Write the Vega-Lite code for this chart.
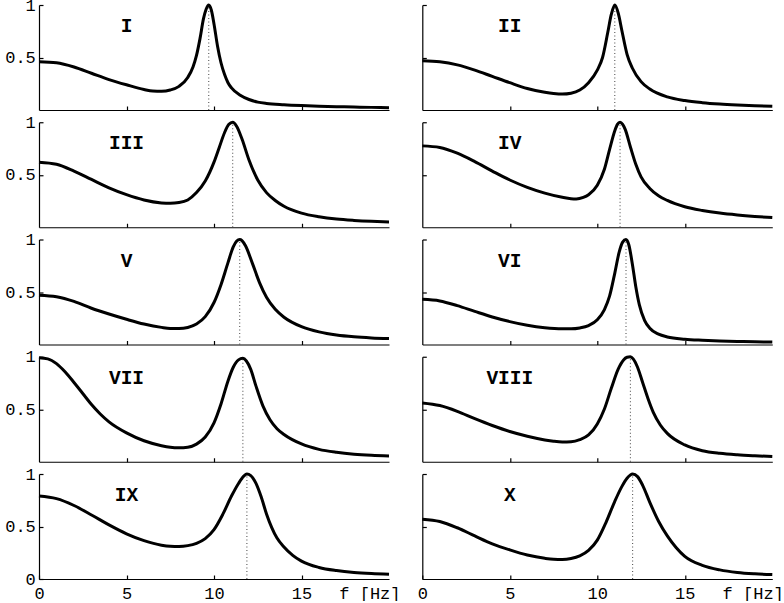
{
"$schema": "https://vega.github.io/schema/vega-lite/v6.json",
"padding": {"left": 4, "top": -4, "right": 0, "bottom": 0},
"background": "white",
"config": {
  "view": {"stroke": null},
  "axis": {"grid": false, "domainColor": "black", "domainWidth": 1.2, "tickColor": "black", "tickWidth": 1.2, "tickSize": -4, "labelFont": "Liberation Mono", "labelFontSize": 17, "labelColor": "black", "labelOverlap": false, "labelFlush": false}
},
"datasets": {
  "curves": [
    {"p":"I","f":0,"v":0.46},{"p":"I","f":1,"v":0.45},{"p":"I","f":2,"v":0.41},{"p":"I","f":3,"v":0.35},{"p":"I","f":4,"v":0.29},{"p":"I","f":5,"v":0.24},{"p":"I","f":6,"v":0.195},{"p":"I","f":6.5,"v":0.18},{"p":"I","f":7,"v":0.178},{"p":"I","f":7.5,"v":0.19},{"p":"I","f":8,"v":0.225},{"p":"I","f":8.5,"v":0.31},{"p":"I","f":8.8,"v":0.41},{"p":"I","f":9,"v":0.52},{"p":"I","f":9.2,"v":0.68},{"p":"I","f":9.4,"v":0.87},{"p":"I","f":9.55,"v":0.96},{"p":"I","f":9.7,"v":1.0},{"p":"I","f":9.85,"v":0.95},{"p":"I","f":10,"v":0.82},{"p":"I","f":10.2,"v":0.61},{"p":"I","f":10.4,"v":0.45},{"p":"I","f":10.6,"v":0.34},{"p":"I","f":10.8,"v":0.26},{"p":"I","f":11,"v":0.21},{"p":"I","f":11.5,"v":0.14},{"p":"I","f":12,"v":0.1},{"p":"I","f":12.5,"v":0.075},{"p":"I","f":13,"v":0.062},{"p":"I","f":14,"v":0.05},{"p":"I","f":15,"v":0.042},{"p":"I","f":16,"v":0.036},{"p":"I","f":17,"v":0.032},{"p":"I","f":18,"v":0.028},{"p":"I","f":19,"v":0.025},{"p":"I","f":20,"v":0.022},
    {"p":"II","f":0,"v":0.47},{"p":"II","f":1,"v":0.46},{"p":"II","f":2,"v":0.43},{"p":"II","f":3,"v":0.38},{"p":"II","f":4,"v":0.32},{"p":"II","f":5,"v":0.26},{"p":"II","f":6,"v":0.205},{"p":"II","f":7,"v":0.17},{"p":"II","f":7.5,"v":0.158},{"p":"II","f":8,"v":0.152},{"p":"II","f":8.5,"v":0.16},{"p":"II","f":9,"v":0.19},{"p":"II","f":9.5,"v":0.26},{"p":"II","f":10,"v":0.38},{"p":"II","f":10.3,"v":0.5},{"p":"II","f":10.6,"v":0.74},{"p":"II","f":10.8,"v":0.91},{"p":"II","f":11,"v":1.0},{"p":"II","f":11.2,"v":0.92},{"p":"II","f":11.4,"v":0.76},{"p":"II","f":11.7,"v":0.53},{"p":"II","f":12,"v":0.4},{"p":"II","f":12.5,"v":0.27},{"p":"II","f":13,"v":0.2},{"p":"II","f":14,"v":0.125},{"p":"II","f":15,"v":0.09},{"p":"II","f":16,"v":0.07},{"p":"II","f":17,"v":0.057},{"p":"II","f":18,"v":0.048},{"p":"II","f":19,"v":0.041},{"p":"II","f":20,"v":0.036},
    {"p":"III","f":0,"v":0.62},{"p":"III","f":1,"v":0.6},{"p":"III","f":2,"v":0.535},{"p":"III","f":3,"v":0.455},{"p":"III","f":4,"v":0.375},{"p":"III","f":5,"v":0.31},{"p":"III","f":6,"v":0.26},{"p":"III","f":7,"v":0.232},{"p":"III","f":7.5,"v":0.228},{"p":"III","f":8,"v":0.235},{"p":"III","f":8.5,"v":0.26},{"p":"III","f":9,"v":0.33},{"p":"III","f":9.5,"v":0.44},{"p":"III","f":10,"v":0.62},{"p":"III","f":10.3,"v":0.76},{"p":"III","f":10.6,"v":0.9},{"p":"III","f":10.85,"v":0.98},{"p":"III","f":11.07,"v":1.0},{"p":"III","f":11.3,"v":0.96},{"p":"III","f":11.6,"v":0.84},{"p":"III","f":12,"v":0.64},{"p":"III","f":12.5,"v":0.45},{"p":"III","f":13,"v":0.33},{"p":"III","f":13.5,"v":0.255},{"p":"III","f":14,"v":0.2},{"p":"III","f":15,"v":0.135},{"p":"III","f":16,"v":0.1},{"p":"III","f":17,"v":0.078},{"p":"III","f":18,"v":0.065},{"p":"III","f":19,"v":0.056},{"p":"III","f":20,"v":0.05},
    {"p":"IV","f":0,"v":0.775},{"p":"IV","f":1,"v":0.76},{"p":"IV","f":2,"v":0.705},{"p":"IV","f":3,"v":0.625},{"p":"IV","f":4,"v":0.535},{"p":"IV","f":5,"v":0.45},{"p":"IV","f":6,"v":0.38},{"p":"IV","f":7,"v":0.325},{"p":"IV","f":8,"v":0.285},{"p":"IV","f":8.5,"v":0.272},{"p":"IV","f":8.8,"v":0.27},{"p":"IV","f":9.2,"v":0.285},{"p":"IV","f":9.5,"v":0.31},{"p":"IV","f":10,"v":0.4},{"p":"IV","f":10.4,"v":0.55},{"p":"IV","f":10.7,"v":0.74},{"p":"IV","f":11,"v":0.92},{"p":"IV","f":11.15,"v":0.98},{"p":"IV","f":11.3,"v":1.0},{"p":"IV","f":11.45,"v":0.98},{"p":"IV","f":11.6,"v":0.93},{"p":"IV","f":11.9,"v":0.76},{"p":"IV","f":12.2,"v":0.6},{"p":"IV","f":12.5,"v":0.48},{"p":"IV","f":13,"v":0.37},{"p":"IV","f":13.5,"v":0.3},{"p":"IV","f":14,"v":0.255},{"p":"IV","f":15,"v":0.195},{"p":"IV","f":16,"v":0.16},{"p":"IV","f":17,"v":0.135},{"p":"IV","f":18,"v":0.117},{"p":"IV","f":19,"v":0.103},{"p":"IV","f":20,"v":0.092},
    {"p":"V","f":0,"v":0.47},{"p":"V","f":1,"v":0.455},{"p":"V","f":2,"v":0.41},{"p":"V","f":3,"v":0.345},{"p":"V","f":4,"v":0.29},{"p":"V","f":5,"v":0.24},{"p":"V","f":6,"v":0.195},{"p":"V","f":7,"v":0.163},{"p":"V","f":7.5,"v":0.153},{"p":"V","f":8,"v":0.152},{"p":"V","f":8.5,"v":0.162},{"p":"V","f":9,"v":0.195},{"p":"V","f":9.5,"v":0.265},{"p":"V","f":10,"v":0.4},{"p":"V","f":10.4,"v":0.57},{"p":"V","f":10.8,"v":0.78},{"p":"V","f":11.1,"v":0.93},{"p":"V","f":11.3,"v":0.985},{"p":"V","f":11.47,"v":1.0},{"p":"V","f":11.6,"v":0.99},{"p":"V","f":11.8,"v":0.94},{"p":"V","f":12.2,"v":0.77},{"p":"V","f":12.6,"v":0.59},{"p":"V","f":13,"v":0.45},{"p":"V","f":13.5,"v":0.335},{"p":"V","f":14,"v":0.26},{"p":"V","f":15,"v":0.17},{"p":"V","f":16,"v":0.12},{"p":"V","f":17,"v":0.09},{"p":"V","f":18,"v":0.073},{"p":"V","f":19,"v":0.063},{"p":"V","f":20,"v":0.057},
    {"p":"VI","f":0,"v":0.43},{"p":"VI","f":1,"v":0.415},{"p":"VI","f":2,"v":0.37},{"p":"VI","f":3,"v":0.315},{"p":"VI","f":4,"v":0.262},{"p":"VI","f":5,"v":0.218},{"p":"VI","f":6,"v":0.183},{"p":"VI","f":7,"v":0.16},{"p":"VI","f":8,"v":0.15},{"p":"VI","f":8.5,"v":0.15},{"p":"VI","f":9,"v":0.158},{"p":"VI","f":9.5,"v":0.18},{"p":"VI","f":10,"v":0.235},{"p":"VI","f":10.4,"v":0.33},{"p":"VI","f":10.7,"v":0.46},{"p":"VI","f":11,"v":0.68},{"p":"VI","f":11.25,"v":0.88},{"p":"VI","f":11.45,"v":0.975},{"p":"VI","f":11.64,"v":1.0},{"p":"VI","f":11.8,"v":0.95},{"p":"VI","f":12,"v":0.77},{"p":"VI","f":12.2,"v":0.55},{"p":"VI","f":12.4,"v":0.38},{"p":"VI","f":12.7,"v":0.23},{"p":"VI","f":13,"v":0.155},{"p":"VI","f":13.5,"v":0.098},{"p":"VI","f":14,"v":0.072},{"p":"VI","f":15,"v":0.05},{"p":"VI","f":16,"v":0.04},{"p":"VI","f":17,"v":0.033},{"p":"VI","f":18,"v":0.029},{"p":"VI","f":19,"v":0.026},{"p":"VI","f":20,"v":0.023},
    {"p":"VII","f":0,"v":0.99},{"p":"VII","f":0.5,"v":0.98},{"p":"VII","f":1,"v":0.935},{"p":"VII","f":1.5,"v":0.855},{"p":"VII","f":2,"v":0.755},{"p":"VII","f":2.5,"v":0.65},{"p":"VII","f":3,"v":0.545},{"p":"VII","f":3.5,"v":0.455},{"p":"VII","f":4,"v":0.38},{"p":"VII","f":5,"v":0.275},{"p":"VII","f":6,"v":0.2},{"p":"VII","f":7,"v":0.153},{"p":"VII","f":7.5,"v":0.138},{"p":"VII","f":8,"v":0.133},{"p":"VII","f":8.5,"v":0.138},{"p":"VII","f":9,"v":0.168},{"p":"VII","f":9.5,"v":0.235},{"p":"VII","f":10,"v":0.37},{"p":"VII","f":10.4,"v":0.55},{"p":"VII","f":10.8,"v":0.77},{"p":"VII","f":11.1,"v":0.9},{"p":"VII","f":11.4,"v":0.97},{"p":"VII","f":11.65,"v":0.985},{"p":"VII","f":11.85,"v":0.96},{"p":"VII","f":12.1,"v":0.88},{"p":"VII","f":12.4,"v":0.72},{"p":"VII","f":12.8,"v":0.53},{"p":"VII","f":13.2,"v":0.4},{"p":"VII","f":13.6,"v":0.315},{"p":"VII","f":14,"v":0.26},{"p":"VII","f":15,"v":0.17},{"p":"VII","f":16,"v":0.118},{"p":"VII","f":17,"v":0.09},{"p":"VII","f":18,"v":0.072},{"p":"VII","f":19,"v":0.061},{"p":"VII","f":20,"v":0.054},
    {"p":"VIII","f":0,"v":0.56},{"p":"VIII","f":1,"v":0.535},{"p":"VIII","f":2,"v":0.48},{"p":"VIII","f":3,"v":0.41},{"p":"VIII","f":4,"v":0.345},{"p":"VIII","f":5,"v":0.288},{"p":"VIII","f":6,"v":0.243},{"p":"VIII","f":7,"v":0.208},{"p":"VIII","f":7.5,"v":0.195},{"p":"VIII","f":8,"v":0.188},{"p":"VIII","f":8.5,"v":0.19},{"p":"VIII","f":9,"v":0.21},{"p":"VIII","f":9.5,"v":0.255},{"p":"VIII","f":10,"v":0.36},{"p":"VIII","f":10.4,"v":0.5},{"p":"VIII","f":10.8,"v":0.7},{"p":"VIII","f":11.2,"v":0.885},{"p":"VIII","f":11.5,"v":0.97},{"p":"VIII","f":11.7,"v":0.995},{"p":"VIII","f":11.89,"v":1.0},{"p":"VIII","f":12.05,"v":0.98},{"p":"VIII","f":12.3,"v":0.9},{"p":"VIII","f":12.6,"v":0.75},{"p":"VIII","f":12.9,"v":0.6},{"p":"VIII","f":13.2,"v":0.47},{"p":"VIII","f":13.6,"v":0.35},{"p":"VIII","f":14,"v":0.27},{"p":"VIII","f":15,"v":0.16},{"p":"VIII","f":16,"v":0.105},{"p":"VIII","f":17,"v":0.08},{"p":"VIII","f":18,"v":0.066},{"p":"VIII","f":19,"v":0.057},{"p":"VIII","f":20,"v":0.05},
    {"p":"IX","f":0,"v":0.79},{"p":"IX","f":1,"v":0.765},{"p":"IX","f":2,"v":0.7},{"p":"IX","f":3,"v":0.61},{"p":"IX","f":4,"v":0.515},{"p":"IX","f":5,"v":0.43},{"p":"IX","f":6,"v":0.365},{"p":"IX","f":7,"v":0.322},{"p":"IX","f":7.5,"v":0.312},{"p":"IX","f":8,"v":0.31},{"p":"IX","f":8.5,"v":0.318},{"p":"IX","f":9,"v":0.34},{"p":"IX","f":9.5,"v":0.385},{"p":"IX","f":10,"v":0.47},{"p":"IX","f":10.5,"v":0.615},{"p":"IX","f":11,"v":0.79},{"p":"IX","f":11.4,"v":0.91},{"p":"IX","f":11.7,"v":0.98},{"p":"IX","f":11.88,"v":1.0},{"p":"IX","f":12.1,"v":0.985},{"p":"IX","f":12.4,"v":0.91},{"p":"IX","f":12.7,"v":0.78},{"p":"IX","f":13,"v":0.62},{"p":"IX","f":13.3,"v":0.49},{"p":"IX","f":13.6,"v":0.39},{"p":"IX","f":14,"v":0.305},{"p":"IX","f":14.5,"v":0.225},{"p":"IX","f":15,"v":0.17},{"p":"IX","f":16,"v":0.11},{"p":"IX","f":17,"v":0.08},{"p":"IX","f":18,"v":0.062},{"p":"IX","f":19,"v":0.052},{"p":"IX","f":20,"v":0.046},
    {"p":"X","f":0,"v":0.57},{"p":"X","f":1,"v":0.548},{"p":"X","f":2,"v":0.488},{"p":"X","f":3,"v":0.41},{"p":"X","f":4,"v":0.335},{"p":"X","f":5,"v":0.277},{"p":"X","f":6,"v":0.228},{"p":"X","f":7,"v":0.197},{"p":"X","f":7.5,"v":0.188},{"p":"X","f":8,"v":0.186},{"p":"X","f":8.5,"v":0.195},{"p":"X","f":9,"v":0.22},{"p":"X","f":9.5,"v":0.272},{"p":"X","f":10,"v":0.37},{"p":"X","f":10.5,"v":0.54},{"p":"X","f":11,"v":0.74},{"p":"X","f":11.4,"v":0.88},{"p":"X","f":11.7,"v":0.96},{"p":"X","f":12.02,"v":1.0},{"p":"X","f":12.3,"v":0.975},{"p":"X","f":12.6,"v":0.89},{"p":"X","f":13,"v":0.73},{"p":"X","f":13.5,"v":0.55},{"p":"X","f":14,"v":0.41},{"p":"X","f":14.5,"v":0.3},{"p":"X","f":15,"v":0.215},{"p":"X","f":16,"v":0.13},{"p":"X","f":17,"v":0.087},{"p":"X","f":18,"v":0.063},{"p":"X","f":19,"v":0.05},{"p":"X","f":20,"v":0.042}
  ],
  "peaks": [
    {"p":"I","f0":9.7},{"p":"II","f0":11.0},{"p":"III","f0":11.07},{"p":"IV","f0":11.3},{"p":"V","f0":11.47},{"p":"VI","f0":11.64},{"p":"VII","f0":11.65},{"p":"VIII","f0":11.89},{"p":"IX","f0":11.88},{"p":"X","f0":12.02}
  ]
},
"columns": 2,
"spacing": {"row": 12.25, "column": 33.3},
"bounds": "flush",
"concat": [
  {"width": 350, "height": 105, "layer": [
    {"data": {"name": "peaks"}, "transform": [{"filter": "datum.p == 'I'"}], "mark": {"type": "rule", "strokeDash": [1, 2.5], "color": "#444", "strokeWidth": 1}, "encoding": {"x": {"field": "f0", "type": "quantitative"}, "y": {"datum": 0}, "y2": {"datum": 1}}},
    {"data": {"name": "curves"}, "transform": [{"filter": "datum.p == 'I'"}], "mark": {"type": "line", "color": "black", "strokeWidth": 3, "interpolate": "monotone"},
     "encoding": {"x": {"field": "f", "type": "quantitative", "scale": {"domain": [0, 20]}, "axis": {"values": [5, 10, 15], "labels": false, "title": null}},
                  "y": {"field": "v", "type": "quantitative", "scale": {"domain": [0, 1]}, "axis": {"values": [0.5, 1], "format": "~g", "labelPadding": 7.7, "title": null}}}},
    {"data": {"name": "peaks"}, "transform": [{"filter": "datum.p == 'I'"}], "mark": {"type": "text", "font": "Liberation Mono", "fontWeight": "bold", "fontSize": 19.5, "align": "center", "baseline": "middle", "color": "black"}, "encoding": {"x": {"datum": 5}, "y": {"datum": 0.8}, "text": {"field": "p"}}}
  ]},
  {"width": 350, "height": 105, "layer": [
    {"data": {"name": "peaks"}, "transform": [{"filter": "datum.p == 'II'"}], "mark": {"type": "rule", "strokeDash": [1, 2.5], "color": "#444", "strokeWidth": 1}, "encoding": {"x": {"field": "f0", "type": "quantitative"}, "y": {"datum": 0}, "y2": {"datum": 1}}},
    {"data": {"name": "curves"}, "transform": [{"filter": "datum.p == 'II'"}], "mark": {"type": "line", "color": "black", "strokeWidth": 3, "interpolate": "monotone"},
     "encoding": {"x": {"field": "f", "type": "quantitative", "scale": {"domain": [0, 20]}, "axis": {"values": [5, 10, 15], "labels": false, "title": null}},
                  "y": {"field": "v", "type": "quantitative", "scale": {"domain": [0, 1]}, "axis": {"values": [0.5, 1], "labels": false, "title": null}}}},
    {"data": {"name": "peaks"}, "transform": [{"filter": "datum.p == 'II'"}], "mark": {"type": "text", "font": "Liberation Mono", "fontWeight": "bold", "fontSize": 19.5, "align": "center", "baseline": "middle", "color": "black"}, "encoding": {"x": {"datum": 5}, "y": {"datum": 0.8}, "text": {"field": "p"}}}
  ]},
  {"width": 350, "height": 105, "layer": [
    {"data": {"name": "peaks"}, "transform": [{"filter": "datum.p == 'III'"}], "mark": {"type": "rule", "strokeDash": [1, 2.5], "color": "#444", "strokeWidth": 1}, "encoding": {"x": {"field": "f0", "type": "quantitative"}, "y": {"datum": 0}, "y2": {"datum": 1}}},
    {"data": {"name": "curves"}, "transform": [{"filter": "datum.p == 'III'"}], "mark": {"type": "line", "color": "black", "strokeWidth": 3, "interpolate": "monotone"},
     "encoding": {"x": {"field": "f", "type": "quantitative", "scale": {"domain": [0, 20]}, "axis": {"values": [5, 10, 15], "labels": false, "title": null}},
                  "y": {"field": "v", "type": "quantitative", "scale": {"domain": [0, 1]}, "axis": {"values": [0.5, 1], "format": "~g", "labelPadding": 7.7, "title": null}}}},
    {"data": {"name": "peaks"}, "transform": [{"filter": "datum.p == 'III'"}], "mark": {"type": "text", "font": "Liberation Mono", "fontWeight": "bold", "fontSize": 19.5, "align": "center", "baseline": "middle", "color": "black"}, "encoding": {"x": {"datum": 5}, "y": {"datum": 0.8}, "text": {"field": "p"}}}
  ]},
  {"width": 350, "height": 105, "layer": [
    {"data": {"name": "peaks"}, "transform": [{"filter": "datum.p == 'IV'"}], "mark": {"type": "rule", "strokeDash": [1, 2.5], "color": "#444", "strokeWidth": 1}, "encoding": {"x": {"field": "f0", "type": "quantitative"}, "y": {"datum": 0}, "y2": {"datum": 1}}},
    {"data": {"name": "curves"}, "transform": [{"filter": "datum.p == 'IV'"}], "mark": {"type": "line", "color": "black", "strokeWidth": 3, "interpolate": "monotone"},
     "encoding": {"x": {"field": "f", "type": "quantitative", "scale": {"domain": [0, 20]}, "axis": {"values": [5, 10, 15], "labels": false, "title": null}},
                  "y": {"field": "v", "type": "quantitative", "scale": {"domain": [0, 1]}, "axis": {"values": [0.5, 1], "labels": false, "title": null}}}},
    {"data": {"name": "peaks"}, "transform": [{"filter": "datum.p == 'IV'"}], "mark": {"type": "text", "font": "Liberation Mono", "fontWeight": "bold", "fontSize": 19.5, "align": "center", "baseline": "middle", "color": "black"}, "encoding": {"x": {"datum": 5}, "y": {"datum": 0.8}, "text": {"field": "p"}}}
  ]},
  {"width": 350, "height": 105, "layer": [
    {"data": {"name": "peaks"}, "transform": [{"filter": "datum.p == 'V'"}], "mark": {"type": "rule", "strokeDash": [1, 2.5], "color": "#444", "strokeWidth": 1}, "encoding": {"x": {"field": "f0", "type": "quantitative"}, "y": {"datum": 0}, "y2": {"datum": 1}}},
    {"data": {"name": "curves"}, "transform": [{"filter": "datum.p == 'V'"}], "mark": {"type": "line", "color": "black", "strokeWidth": 3, "interpolate": "monotone"},
     "encoding": {"x": {"field": "f", "type": "quantitative", "scale": {"domain": [0, 20]}, "axis": {"values": [5, 10, 15], "labels": false, "title": null}},
                  "y": {"field": "v", "type": "quantitative", "scale": {"domain": [0, 1]}, "axis": {"values": [0.5, 1], "format": "~g", "labelPadding": 7.7, "title": null}}}},
    {"data": {"name": "peaks"}, "transform": [{"filter": "datum.p == 'V'"}], "mark": {"type": "text", "font": "Liberation Mono", "fontWeight": "bold", "fontSize": 19.5, "align": "center", "baseline": "middle", "color": "black"}, "encoding": {"x": {"datum": 5}, "y": {"datum": 0.8}, "text": {"field": "p"}}}
  ]},
  {"width": 350, "height": 105, "layer": [
    {"data": {"name": "peaks"}, "transform": [{"filter": "datum.p == 'VI'"}], "mark": {"type": "rule", "strokeDash": [1, 2.5], "color": "#444", "strokeWidth": 1}, "encoding": {"x": {"field": "f0", "type": "quantitative"}, "y": {"datum": 0}, "y2": {"datum": 1}}},
    {"data": {"name": "curves"}, "transform": [{"filter": "datum.p == 'VI'"}], "mark": {"type": "line", "color": "black", "strokeWidth": 3, "interpolate": "monotone"},
     "encoding": {"x": {"field": "f", "type": "quantitative", "scale": {"domain": [0, 20]}, "axis": {"values": [5, 10, 15], "labels": false, "title": null}},
                  "y": {"field": "v", "type": "quantitative", "scale": {"domain": [0, 1]}, "axis": {"values": [0.5, 1], "labels": false, "title": null}}}},
    {"data": {"name": "peaks"}, "transform": [{"filter": "datum.p == 'VI'"}], "mark": {"type": "text", "font": "Liberation Mono", "fontWeight": "bold", "fontSize": 19.5, "align": "center", "baseline": "middle", "color": "black"}, "encoding": {"x": {"datum": 5}, "y": {"datum": 0.8}, "text": {"field": "p"}}}
  ]},
  {"width": 350, "height": 105, "layer": [
    {"data": {"name": "peaks"}, "transform": [{"filter": "datum.p == 'VII'"}], "mark": {"type": "rule", "strokeDash": [1, 2.5], "color": "#444", "strokeWidth": 1}, "encoding": {"x": {"field": "f0", "type": "quantitative"}, "y": {"datum": 0}, "y2": {"datum": 1}}},
    {"data": {"name": "curves"}, "transform": [{"filter": "datum.p == 'VII'"}], "mark": {"type": "line", "color": "black", "strokeWidth": 3, "interpolate": "monotone"},
     "encoding": {"x": {"field": "f", "type": "quantitative", "scale": {"domain": [0, 20]}, "axis": {"values": [5, 10, 15], "labels": false, "title": null}},
                  "y": {"field": "v", "type": "quantitative", "scale": {"domain": [0, 1]}, "axis": {"values": [0.5, 1], "format": "~g", "labelPadding": 7.7, "title": null}}}},
    {"data": {"name": "peaks"}, "transform": [{"filter": "datum.p == 'VII'"}], "mark": {"type": "text", "font": "Liberation Mono", "fontWeight": "bold", "fontSize": 19.5, "align": "center", "baseline": "middle", "color": "black"}, "encoding": {"x": {"datum": 5}, "y": {"datum": 0.8}, "text": {"field": "p"}}}
  ]},
  {"width": 350, "height": 105, "layer": [
    {"data": {"name": "peaks"}, "transform": [{"filter": "datum.p == 'VIII'"}], "mark": {"type": "rule", "strokeDash": [1, 2.5], "color": "#444", "strokeWidth": 1}, "encoding": {"x": {"field": "f0", "type": "quantitative"}, "y": {"datum": 0}, "y2": {"datum": 1}}},
    {"data": {"name": "curves"}, "transform": [{"filter": "datum.p == 'VIII'"}], "mark": {"type": "line", "color": "black", "strokeWidth": 3, "interpolate": "monotone"},
     "encoding": {"x": {"field": "f", "type": "quantitative", "scale": {"domain": [0, 20]}, "axis": {"values": [5, 10, 15], "labels": false, "title": null}},
                  "y": {"field": "v", "type": "quantitative", "scale": {"domain": [0, 1]}, "axis": {"values": [0.5, 1], "labels": false, "title": null}}}},
    {"data": {"name": "peaks"}, "transform": [{"filter": "datum.p == 'VIII'"}], "mark": {"type": "text", "font": "Liberation Mono", "fontWeight": "bold", "fontSize": 19.5, "align": "center", "baseline": "middle", "color": "black"}, "encoding": {"x": {"datum": 5}, "y": {"datum": 0.8}, "text": {"field": "p"}}}
  ]},
  {"width": 350, "height": 105, "layer": [
    {"data": {"name": "peaks"}, "transform": [{"filter": "datum.p == 'IX'"}], "mark": {"type": "rule", "strokeDash": [1, 2.5], "color": "#444", "strokeWidth": 1}, "encoding": {"x": {"field": "f0", "type": "quantitative"}, "y": {"datum": 0}, "y2": {"datum": 1}}},
    {"data": {"name": "curves"}, "transform": [{"filter": "datum.p == 'IX'"}], "mark": {"type": "line", "color": "black", "strokeWidth": 3, "interpolate": "monotone"},
     "encoding": {"x": {"field": "f", "type": "quantitative", "scale": {"domain": [0, 20]}, "axis": {"values": [0, 5, 10, 15], "labelPadding": 23, "labelBaseline": "alphabetic", "title": "f  [Hz]", "titleFont": "Liberation Mono", "titleFontSize": 17, "titleFontWeight": "normal", "titleColor": "black", "titleAlign": "right", "titleBaseline": "alphabetic", "titleX": 361, "titleY": 19}},
                  "y": {"field": "v", "type": "quantitative", "scale": {"domain": [0, 1]}, "axis": {"values": [0, 0.5, 1], "format": "~g", "labelPadding": 7.7, "title": null}}}},
    {"data": {"name": "peaks"}, "transform": [{"filter": "datum.p == 'IX'"}], "mark": {"type": "text", "font": "Liberation Mono", "fontWeight": "bold", "fontSize": 19.5, "align": "center", "baseline": "middle", "color": "black"}, "encoding": {"x": {"datum": 5}, "y": {"datum": 0.8}, "text": {"field": "p"}}}
  ]},
  {"width": 350, "height": 105, "layer": [
    {"data": {"name": "peaks"}, "transform": [{"filter": "datum.p == 'X'"}], "mark": {"type": "rule", "strokeDash": [1, 2.5], "color": "#444", "strokeWidth": 1}, "encoding": {"x": {"field": "f0", "type": "quantitative"}, "y": {"datum": 0}, "y2": {"datum": 1}}},
    {"data": {"name": "curves"}, "transform": [{"filter": "datum.p == 'X'"}], "mark": {"type": "line", "color": "black", "strokeWidth": 3, "interpolate": "monotone"},
     "encoding": {"x": {"field": "f", "type": "quantitative", "scale": {"domain": [0, 20]}, "axis": {"values": [0, 5, 10, 15], "labelPadding": 23, "labelBaseline": "alphabetic", "title": "f  [Hz]", "titleFont": "Liberation Mono", "titleFontSize": 17, "titleFontWeight": "normal", "titleColor": "black", "titleAlign": "right", "titleBaseline": "alphabetic", "titleX": 361, "titleY": 19}},
                  "y": {"field": "v", "type": "quantitative", "scale": {"domain": [0, 1]}, "axis": {"values": [0.5, 1], "labels": false, "title": null}}}},
    {"data": {"name": "peaks"}, "transform": [{"filter": "datum.p == 'X'"}], "mark": {"type": "text", "font": "Liberation Mono", "fontWeight": "bold", "fontSize": 19.5, "align": "center", "baseline": "middle", "color": "black"}, "encoding": {"x": {"datum": 5}, "y": {"datum": 0.8}, "text": {"field": "p"}}}
  ]}
]
}
